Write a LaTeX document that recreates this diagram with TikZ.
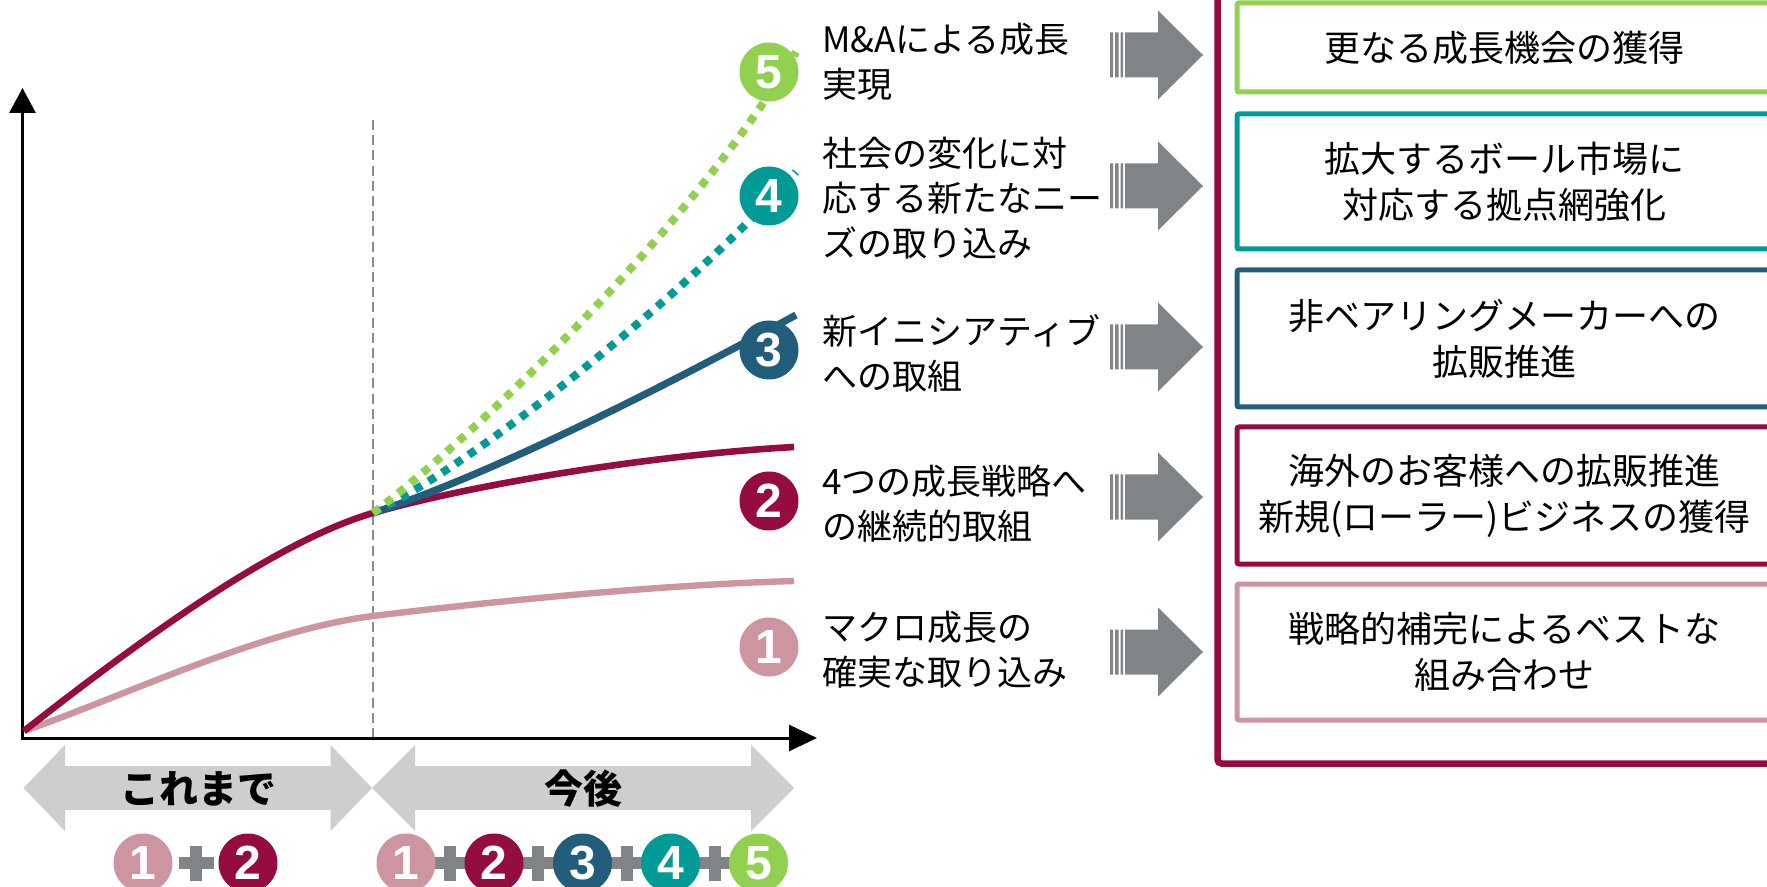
\documentclass[tikz,border=0pt]{standalone}
\usepackage{fontspec}
\setmainfont{Noto Sans CJK JP}
\newfontfamily\numfont{Liberation Sans}
\usetikzlibrary{arrows.meta}
\definecolor{cpink}{RGB}{205,149,159}
\definecolor{cmaroon}{RGB}{148,12,64}
\definecolor{cblue}{RGB}{34,94,124}
\definecolor{cteal}{RGB}{0,155,151}
\definecolor{cgreen}{RGB}{146,208,80}
\definecolor{agray}{RGB}{128,132,134}
\definecolor{lgray}{RGB}{205,206,208}
\definecolor{dgray}{RGB}{140,140,140}
\tikzset{
  lbl/.style={anchor=west, inner sep=0pt, align=left, font=\fontsize{17.5pt}{22.5pt}\selectfont},
  numc/.style={circle, inner sep=0pt, minimum size=29.5pt, text=white, font=\numfont\bfseries\fontsize{24pt}{24pt}\selectfont},
  rbox/.style={draw, line width=2.5pt, rounded corners=1pt, fill=white, inner sep=0pt, align=center, minimum width=267.5pt, font=\fontsize{18pt}{23pt}\selectfont},
  bigtxt/.style={inner sep=0pt, font=\bfseries\fontsize{19.5pt}{19.5pt}\selectfont},
  dotline/.style={line width=4pt, dash pattern=on 4pt off 4pt, line cap=butt},
  garrow/.pic={
    \fill[agray] (0,-22.5) rectangle (3,22.5) (5,-22.5) rectangle (8.5,22.5) (10.5,-22.5) rectangle (13,22.5);
    \fill[agray] (15,-22.5) -- (48,-22.5) -- (48,-44.5) -- (93,0) -- (48,44.5) -- (48,22.5) -- (15,22.5) -- cycle;
  },
  plussign/.pic={
    \fill[agray] (-17.5,-6) rectangle (17.5,6);
    \fill[agray] (-6,-17.5) rectangle (6,17.5);
  }
}
\begin{document}
\begin{tikzpicture}[x=0.5pt,y=-0.5pt]
\useasboundingbox (0,0) rectangle (1767,887);
\clip (0,0) rectangle (1767,887);
\fill[white] (0,0) rectangle (1767,887);

% dashed divider
\coordinate (dtop) at (373,120);
\coordinate (dbot) at (373,738);
\draw[dgray, line width=1.4pt, dash pattern=on 5pt off 2.6pt] (dtop) -- (dbot);

% axes
\coordinate (ax0) at (22.5,739.5);
\coordinate (ytip) at (22.5,88);
\coordinate (xstart) at (21,738);
\coordinate (xtip) at (817,738);
\draw[line width=1.5pt, -{Triangle[length=12.5pt,width=13pt]}] (ax0) -- (ytip);
\draw[line width=1.5pt, -{Triangle[length=14pt,width=13pt]}] (xstart) -- (xtip);

% curves
\coordinate (O) at (24,731);
\coordinate (B) at (373,513);
\coordinate (M1) at (373,616);
\coordinate (E1) at (794,581);
\coordinate (E2) at (794,447);
\coordinate (E3) at (796,315);
\coordinate (E4) at (796,172);
\coordinate (E5) at (796,52);
\draw[cpink, line width=3.2pt] (O) .. controls (120,698) and (260,630) .. (M1) .. controls (470,604) and (650,585) .. (E1);
\draw[cmaroon, line width=3.3pt] (O) .. controls (150,632) and (280,540) .. (B) .. controls (470,485) and (650,455) .. (E2);
\draw[cblue, line width=3.6pt] (B) .. controls (480,478) and (640,400) .. (E3);
\draw[cteal, dotline] (B) .. controls (480,460) and (680,300) .. (E4);
\draw[cgreen, dotline] (B) .. controls (470,440) and (690,230) .. (E5);

% number circles on chart
\node[numc, fill=cgreen]  (c5) at (769,72)  {5};
\node[numc, fill=cteal]   (c4) at (769,196) {4};
\node[numc, fill=cblue]   (c3) at (769,350) {3};
\node[numc, fill=cmaroon] (c2) at (769,501) {2};
\node[numc, fill=cpink]   (c1) at (769,647) {1};

% labels
\node[lbl] (t5) at (822,62)  {M\&Aによる成長\\実現};
\node[lbl] (t4) at (822,198) {社会の変化に対\\応する新たなニー\\ズの取り込み};
\node[lbl] (t3) at (822,353) {新イニシアティブ\\への取組};
\node[lbl] (t2) at (822,504) {4つの成長戦略へ\\の継続的取組};
\node[lbl] (t1) at (822,650) {マクロ成長の\\確実な取り込み};

% gray block arrows
\pic at (1110,55)  {garrow};
\pic at (1110,186) {garrow};
\pic at (1110,347) {garrow};
\pic at (1110,497) {garrow};
\pic at (1110,652) {garrow};

% frame
\draw[cmaroon, line width=3.25pt, rounded corners=2pt] (1217.5,-20) rectangle (1800,763.5);

% right boxes
\node[rbox, draw=cgreen,  minimum height=44.5pt] (k5) at (1504.5,47.5)  {更なる成長機会の獲得};
\node[rbox, draw=cteal,   minimum height=67.5pt] (k4) at (1504.5,181.5) {拡大するボール市場に\\対応する拠点網強化};
\node[rbox, draw=cblue,   minimum height=68.5pt] (k3) at (1504.5,338.5) {非ベアリングメーカーへの\\拡販推進};
\node[rbox, draw=cmaroon, minimum height=68.5pt] (k2) at (1504.5,495.5) {海外のお客様への拡販推進\\新規(ローラー)ビジネスの獲得};
\node[rbox, draw=cpink,   minimum height=68pt]   (k1) at (1504.5,652)   {戦略的補完によるベストな\\組み合わせ};

% bottom double arrows
\fill[lgray] (23.5,788) -- (65,745) -- (65,766) -- (330.5,766) -- (330.5,745) -- (372,788) -- (330.5,831) -- (330.5,810) -- (65,810) -- (65,831) -- cycle;
\fill[lgray] (372,788) -- (415,745) -- (415,766) -- (751,766) -- (751,745) -- (794,788) -- (751,831) -- (751,810) -- (415,810) -- (415,831) -- cycle;
\node[bigtxt] (past) at (198,789) {これまで};
\node[bigtxt] (future) at (583,789) {今後};

% bottom sequences
\pic at (196,863) {plussign};
\foreach \x in {450,538,626.5,714.5} { \pic at (\x,863) {plussign}; }
\node[numc, fill=cpink]   (b1) at (143,863) {1};
\node[numc, fill=cmaroon] (b2) at (248,863) {2};
\node[numc, fill=cpink]   (r1) at (406,863) {1};
\node[numc, fill=cmaroon] (r2) at (494,863) {2};
\node[numc, fill=cblue]   (r3) at (582.5,863) {3};
\node[numc, fill=cteal]   (r4) at (670.5,863) {4};
\node[numc, fill=cgreen]  (r5) at (758.5,863) {5};
\end{tikzpicture}
\end{document}
